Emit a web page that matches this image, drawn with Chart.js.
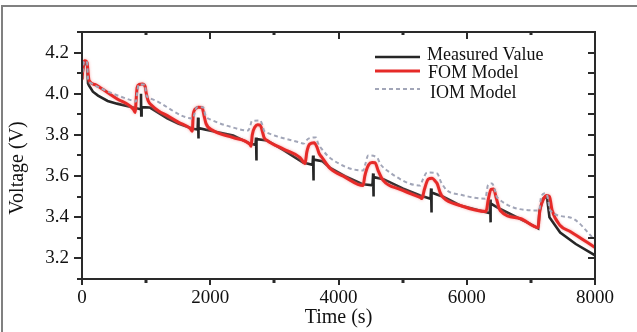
<!DOCTYPE html>
<html><head><meta charset="utf-8">
<script src="https://cdn.jsdelivr.net/npm/chart.js@4/dist/chart.umd.min.js"></script>
<style>html,body{margin:0;padding:0;background:#fff}#wrap{width:637px;height:332px}</style>
</head><body><div id="wrap"><canvas id="c" width="637" height="332"></canvas></div>
<script>
// ---- data (time in s, voltage in V) ----
const measT = [0,20,45,80,94,110,170,250,400,546,800,912,920,924,930,1061,1330,1500,1730,1803,1810,1814,1820,2044,2356,2621,2705,2714,2718,2724,2886,3150,3448,3595,3604,3608,3614,3750,3869,4100,4384,4530,4540,4544,4550,4700,5000,5273,5435,5444,5448,5454,5632,5897,6318,6358,6365,6369,6375,6521,6942,7114,7135,7190,7250,7290,7457,7700,8000];
const measV = [4.07,4.13,4.15,4.14,4.05,4.04,4.01,3.991,3.965,3.952,3.933,3.925,4.00,3.894,3.935,3.933,3.88,3.855,3.83,3.826,3.884,3.783,3.833,3.818,3.797,3.758,3.752,3.787,3.676,3.78,3.773,3.725,3.666,3.655,3.70,3.579,3.68,3.672,3.64,3.60,3.56,3.555,3.613,3.501,3.595,3.585,3.54,3.506,3.49,3.54,3.423,3.52,3.50,3.457,3.423,3.42,3.486,3.375,3.467,3.44,3.375,3.346,3.43,3.49,3.50,3.40,3.326,3.27,3.215];

const fomT = [0,20,45,80,95,110,200,280,550,800,830,842,860,890,940,985,1000,1030,1090,1200,1330,1500,1690,1720,1735,1775,1810,1872,1903,1934,2044,2356,2621,2636,2655,2700,2740,2780,2810,2840,2886,3150,3401,3479,3505,3550,3620,3666,3697,3744,3869,4100,4384,4410,4470,4524,4570,4618,4696,4961,5273,5304,5335,5400,5460,5510,5538,5585,5632,5897,6302,6333,6380,6420,6458,6521,6833,7114,7135,7200,7250,7290,7332,7457,7613,8000];
const fomV = [4.07,4.14,4.16,4.15,4.10,4.065,4.045,4.03,3.975,3.925,3.909,3.96,4.03,4.045,4.047,4.035,4.005,3.967,3.943,3.915,3.894,3.862,3.83,3.818,3.90,3.928,3.935,3.933,3.894,3.855,3.821,3.787,3.753,3.745,3.80,3.84,3.85,3.848,3.82,3.787,3.773,3.73,3.69,3.661,3.715,3.755,3.762,3.739,3.71,3.69,3.637,3.595,3.554,3.60,3.655,3.666,3.665,3.627,3.579,3.535,3.496,3.491,3.53,3.585,3.59,3.575,3.564,3.52,3.496,3.457,3.428,3.482,3.535,3.537,3.496,3.433,3.394,3.35,3.42,3.49,3.506,3.50,3.433,3.36,3.331,3.253];

const iomT = [0,20,45,80,95,125,800,840,858,885,980,1000,1030,1061,1732,1752,1790,1890,1920,1950,2000,2356,2590,2620,2650,2780,2810,2840,2886,3401,3460,3490,3540,3650,3680,3744,3869,4384,4420,4462,4602,4650,4758,5273,5310,5382,5538,5600,5694,5897,6290,6330,6396,6440,6474,7130,7160,7223,7260,7300,7613,8000];
const iomV = [4.07,4.14,4.16,4.15,4.07,4.054,3.965,3.962,4.00,4.045,4.045,4.00,3.98,3.977,3.88,3.90,3.935,3.935,3.90,3.884,3.875,3.836,3.821,3.84,3.868,3.87,3.85,3.82,3.811,3.763,3.758,3.77,3.783,3.788,3.76,3.73,3.688,3.627,3.66,3.70,3.69,3.66,3.627,3.554,3.58,3.617,3.613,3.57,3.53,3.51,3.49,3.555,3.564,3.53,3.496,3.433,3.50,3.516,3.50,3.433,3.399,3.29];

const xTicks = [0,2000,4000,6000,8000];
const xMinor = [1000,3000,5000,7000];
const yTicks = [3.2,3.4,3.6,3.8,4.0,4.2];
const yMinor = [3.1,3.3,3.5,3.7,3.9,4.1,4.3];
const seriesNames = ['Measured Value','FOM Model','IOM Model'];
const xTitle = 'Time (s)';
const yTitle = 'Voltage (V)';

const SERIF = '"Liberation Serif","Times New Roman",serif';
const toXY = (t,v) => t.map((x,i)=>({x:x,y:v[i]}));

const COL_MEAS = '#262626', COL_FOM = 'rgb(230,42,40)', COL_IOM = '#a2a6b8';

const decor = {
  id:'decor',
  beforeDraw(chart){
    const c = chart.ctx;
    c.save();
    c.fillStyle='#fff'; c.fillRect(0,0,chart.width,chart.height);
    c.strokeStyle='#808080'; c.lineWidth=2;
    c.beginPath(); c.moveTo(2,332); c.lineTo(2,6); c.lineTo(637,6); c.stroke();
    c.restore();
  },
  beforeDatasetDraw(chart,args){
    const c = chart.ctx;
    c.save();
    if (args.meta.label === seriesNames[1]) {
      c.shadowColor='rgba(240,130,130,0.7)'; c.shadowBlur=3;
    }
  },
  afterDatasetDraw(chart){ chart.ctx.restore(); },
  afterDatasetsDraw(chart){
    const c = chart.ctx, a = chart.chartArea, xs = chart.scales.x, ys = chart.scales.y;
    c.save();
    c.strokeStyle='#2a2a2a'; c.lineWidth=2;
    c.strokeRect(a.left, a.top, a.right-a.left, a.bottom-a.top);
    c.lineWidth=2;
    c.beginPath();
    yTicks.forEach(v=>{const y=Math.round(ys.getPixelForValue(v));
      c.moveTo(a.left-8,y); c.lineTo(a.left,y);
      c.moveTo(a.right-7,y); c.lineTo(a.right,y);});
    yMinor.forEach(v=>{const y=Math.round(ys.getPixelForValue(v));
      c.moveTo(a.left-5,y); c.lineTo(a.left,y);
      c.moveTo(a.right-7,y); c.lineTo(a.right,y);});
    xTicks.forEach(v=>{const x=Math.round(xs.getPixelForValue(v));
      c.moveTo(x,a.top); c.lineTo(x,a.top+7);
      c.moveTo(x,a.bottom); c.lineTo(x,a.bottom+6);});
    c.stroke();
    c.lineWidth=3;
    c.beginPath();
    xMinor.forEach(v=>{const x=Math.round(xs.getPixelForValue(v));
      c.moveTo(x,a.top); c.lineTo(x,a.top+3);
      c.moveTo(x,a.bottom); c.lineTo(x,a.bottom+4);});
    c.stroke();
    // y axis title
    c.fillStyle='#111';
    c.font='20px '+SERIF;
    c.textAlign='center'; c.textBaseline='middle';
    c.translate(18,168); c.rotate(-Math.PI/2);
    c.fillText(yTitle,0,0);
    c.restore();
    // legend
    c.save();
    const ly=[57,71,89], ty=[60,78,97.5], tx=[427,428,430];
    const styles=[[COL_MEAS,2.5,[]],[COL_FOM,3,[]],[COL_IOM,2,[4,3]]];
    seriesNames.forEach((n,i)=>{
      c.strokeStyle=styles[i][0]; c.lineWidth=styles[i][1]; c.setLineDash(styles[i][2]);
      c.beginPath(); c.moveTo(375,ly[i]); c.lineTo(420,ly[i]); c.stroke();
      c.setLineDash([]);
      c.fillStyle='#111'; c.font='18px '+SERIF; c.textAlign='left'; c.textBaseline='alphabetic';
      c.fillText(n,tx[i],ty[i]);
    });
    c.restore();
  }
};

new Chart(document.getElementById('c'), {
  type:'line',
  data:{datasets:[
    {label:seriesNames[2], data:toXY(iomT,iomV), borderColor:COL_IOM, borderWidth:2, borderDash:[4,3], pointRadius:0, cubicInterpolationMode:'monotone', fill:false, order:0},
    {label:seriesNames[1], data:toXY(fomT,fomV), borderColor:COL_FOM, borderWidth:3, pointRadius:0, cubicInterpolationMode:'monotone', fill:false, order:1},
    {label:seriesNames[0], data:toXY(measT,measV), borderColor:COL_MEAS, borderWidth:2.6, pointRadius:0, tension:0, fill:false, order:2}
  ]},
  options:{
    responsive:false, animation:false, devicePixelRatio:1,
    layout:{padding:{left:0,right:42,top:32,bottom:0}},
    plugins:{legend:{display:false}, tooltip:{enabled:false}},
    scales:{
      x:{type:'linear', min:0, max:8000,
        afterBuildTicks:s=>{s.ticks=xTicks.map(v=>({value:v}));},
        afterFit:s=>{s.height=53;},
        grid:{display:false, drawTicks:false}, border:{display:false},
        ticks:{color:'#111', font:{family:SERIF,size:19}, padding:8, maxRotation:0, autoSkip:false, callback:v=>String(v)},
        title:{display:true, text:xTitle, color:'#111', font:{family:SERIF,size:20}, padding:{top:0,bottom:2}}
      },
      y:{type:'linear', min:3.1, max:4.3,
        afterBuildTicks:s=>{s.ticks=yTicks.map(v=>({value:v}));},
        afterFit:s=>{s.width=82;},
        grid:{display:false, drawTicks:false}, border:{display:false},
        ticks:{color:'#111', font:{family:SERIF,size:19}, padding:13, autoSkip:false, callback:v=>v.toFixed(1)}
      }
    }
  },
  plugins:[decor]
});
</script></body></html>
